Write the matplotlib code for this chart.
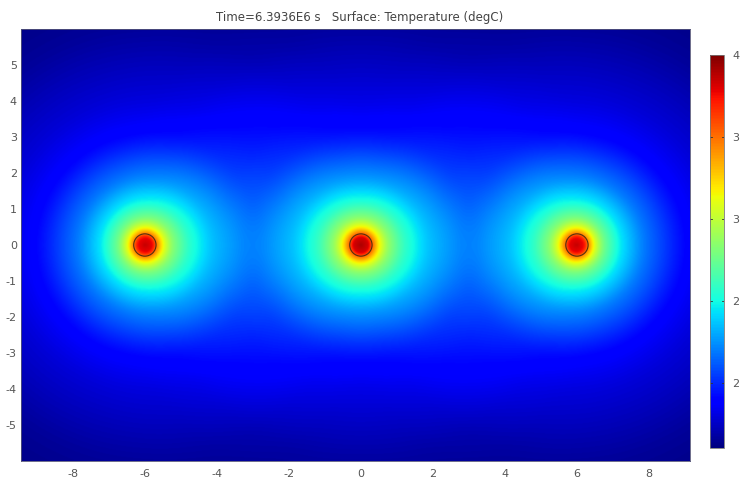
import matplotlib
matplotlib.use("Agg")
import matplotlib.pyplot as plt
import numpy as np
from matplotlib.patches import Circle

# Values
source_x = [-6, 0, 6]
source_y = [0, 0, 0]
# temperature rise above the background for one source, against distance
radius = [0, 0.23, 0.3, 0.5, 0.74, 1.2, 1.85, 2.8, 3.2, 4.0, 6.0, 7.0, 8.5, 12.0]
rise = [2.2, 2.1, 1.85, 1.45, 1.15, 0.84, 0.58, 0.34, 0.26, 0.18, 0.05, 0.02, 0.01, 0.0]
t_min = 1.6
t_max = 4.0
color_ticks = [2.0, 2.5, 3.0, 3.5, 4.0]
color_labels = ["2", "2", "3", "3", "4"]
x_ticks = [-8, -6, -4, -2, 0, 2, 4, 6, 8]
y_ticks = [-5, -4, -3, -2, -1, 0, 1, 2, 3, 4, 5]
circle_radius = 0.31
title = "Time=6.3936E6 s   Surface: Temperature (degC)"
label_color = "#555555"

x = np.linspace(-9.44, 9.14, 900)
y = np.linspace(-6, 6, 600)
X, Y = np.meshgrid(x, y)

# Round off the kinks of the profile, in sqrt(r) so the centre stays sharp
u = np.linspace(0, 4, 2001)
window = np.hanning(101)
window = window / window.sum()
pad = np.interp(np.abs(np.linspace(-0.1, 4.1, 2101)) ** 2, radius, rise)
smooth = np.convolve(pad, window, mode="same")[50:-50]

# Add up the profile around each source
T = np.full(X.shape, t_min)
for sx, sy in zip(source_x, source_y):
    r = np.hypot(X - sx, Y - sy)
    T = T + np.interp(np.sqrt(r), u, smooth)

fig = plt.figure(figsize=(7.4, 4.84), dpi=100)
W, H = 740, 484
ax = fig.add_axes([21 / W, 1 - 461 / H, 669 / W, 432 / H])
im = ax.imshow(T, extent=[x[0], x[-1], y[0], y[-1]], origin="lower", cmap="jet",
               vmin=t_min, vmax=t_max, aspect="auto", interpolation="bilinear")

for sx, sy in zip(source_x, source_y):
    ax.add_patch(Circle((sx, sy), circle_radius, fill=False, ec="#503010", lw=0.8))

ax.set_xticks(x_ticks)
ax.set_xticklabels([str(v) for v in x_ticks])
ax.set_yticks(y_ticks)
ax.set_yticklabels([str(v) for v in y_ticks])
ax.tick_params(length=0, labelsize=8, labelcolor=label_color)
ax.tick_params(axis="x", pad=6)
ax.tick_params(axis="y", pad=3)
for s in ax.spines.values():
    s.set_color("#555577")
    s.set_linewidth(0.6)
fig.text(360 / W, 1 - 17 / H, title, ha="center", va="center", fontsize=8.5, color="#444444")

# Colorbar
cax = fig.add_axes([710 / W, 1 - 448 / H, 14 / W, 393 / H])
cb = fig.colorbar(im, cax=cax)
cb.set_ticks(color_ticks)
cb.set_ticklabels(color_labels)
cax.tick_params(length=0, labelsize=8, labelcolor=label_color, pad=6)
cb.outline.set_edgecolor("#777777")
cb.outline.set_linewidth(0.6)
for t in color_ticks[:-1]:
    cax.plot([0, 0.12], [t, t], transform=cax.get_yaxis_transform(), color="#333333", lw=0.6)
    cax.plot([0.88, 1], [t, t], transform=cax.get_yaxis_transform(), color="#333333", lw=0.6)

fig.savefig("out.png", dpi=100)
